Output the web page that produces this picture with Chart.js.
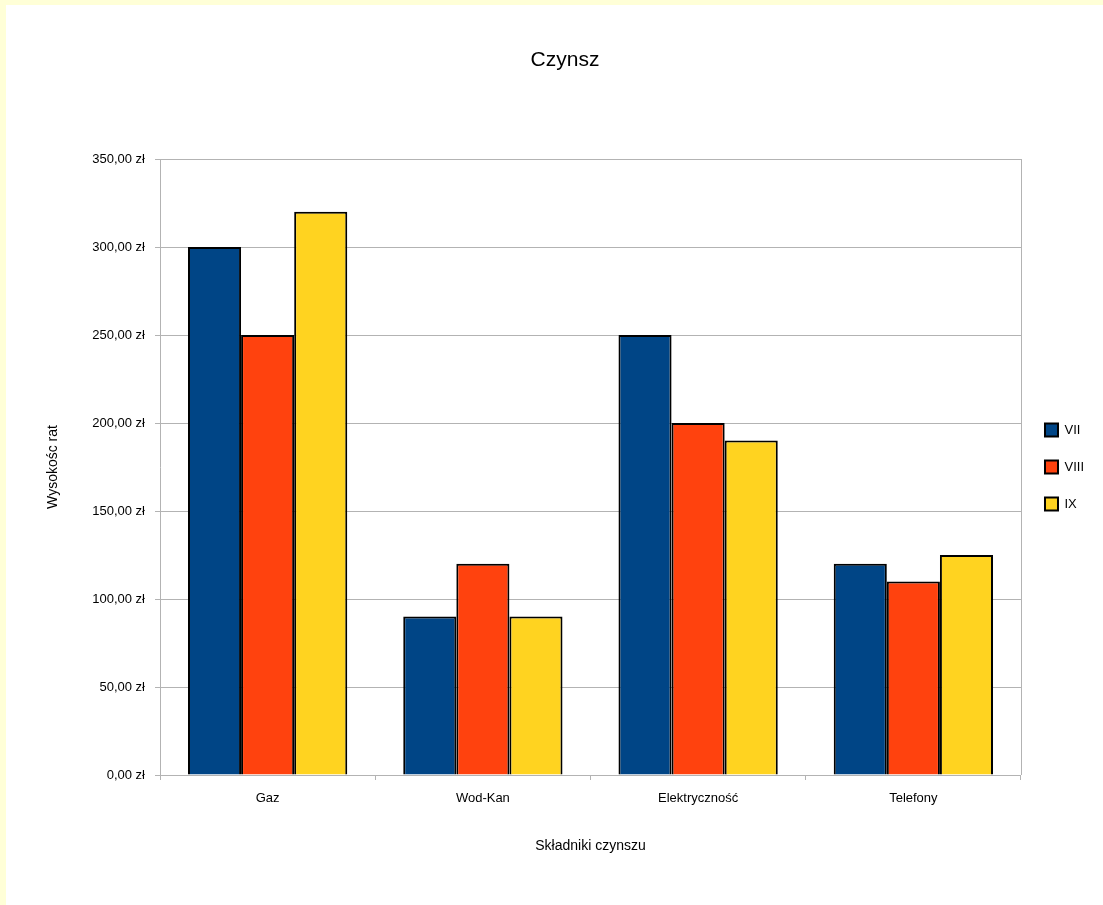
<!DOCTYPE html>
<html>
<head>
<meta charset="utf-8">
<script src="https://cdn.jsdelivr.net/npm/chart.js@4/dist/chart.umd.min.js"></script>
<style>
    body {
        margin: 0;
        background: #ffffd7;
    }
    .chartBox {
        position: absolute;
        left: 6px;
        top: 5px;
        width: 1097px;
        height: 900px;
        background: #ffffff;
    }
</style>
</head>
<body>
<div class="chartBox"><canvas id="myChart"></canvas></div>
<script>
const categories = ['Gaz', 'Wod-Kan', 'Elektryczność', 'Telefony']
const seriesNames = ['VII', 'VIII', 'IX']
const julyValues = [300, 90, 250, 120]
const augustValues = [250, 120, 200, 110]
const septemberValues = [320, 90, 190, 125]
const yMax = 350
const yStep = 50

const gridColor = '#b3b3b3'
const fontFamily = '"Liberation Sans", Arial, sans-serif'

// plot frame on the right side, like the original
const rightFrame = {
    id: 'rightFrame',
    afterDraw(chart) {
        const { ctx, chartArea } = chart
        ctx.save()
        ctx.strokeStyle = gridColor
        ctx.lineWidth = 1
        ctx.beginPath()
        ctx.moveTo(Math.round(chartArea.right) + 0.5, chartArea.top)
        ctx.lineTo(Math.round(chartArea.right) + 0.5, chartArea.bottom)
        ctx.stroke()
        ctx.restore()
    }
}

const ctx = document.getElementById('myChart')

const barChart = new Chart(ctx, {
    type: 'bar',
    data: {
        labels: categories,
        datasets: [
            {
                label: seriesNames[0],
                data: julyValues,
                backgroundColor: '#004586',
                borderColor: '#000000',
                borderWidth: 2,
            },
            {
                label: seriesNames[1],
                data: augustValues,
                backgroundColor: '#ff420e',
                borderColor: '#000000',
                borderWidth: 2,
            },
            {
                label: seriesNames[2],
                data: septemberValues,
                backgroundColor: '#ffd320',
                borderColor: '#000000',
                borderWidth: 2,
            },
        ]
    },
    options: {
        responsive: true,
        maintainAspectRatio: false,
        animation: false,
        datasets: {
            bar: {
                barPercentage: 1,
                categoryPercentage: 0.74,
            }
        },
        layout: {
            padding: { left: 30, right: 9, top: 0, bottom: 50.6 }
        },
        plugins: {
            title: {
                display: true,
                text: 'Czynsz',
                color: '#000',
                font: { family: fontFamily, size: 21, weight: 'normal' },
                padding: { top: 42.4, bottom: 86.4 },
            },
            legend: {
                position: 'right',
                fullSize: false,
                labels: {
                    color: '#000',
                    boxWidth: 13,
                    boxHeight: 13,
                    padding: 24,
                    font: { family: fontFamily, size: 13 },
                }
            },
            tooltip: { enabled: false },
        },
        scales: {
            x: {
                grid: {
                    display: true,
                    offset: true,
                    drawOnChartArea: false,
                    tickLength: 5,
                    color: gridColor,
                },
                border: { color: gridColor },
                ticks: {
                    color: '#000',
                    padding: 11,
                    font: { family: fontFamily, size: 13 },
                },
                title: {
                    display: true,
                    text: 'Składniki czynszu',
                    color: '#000',
                    font: { family: fontFamily, size: 14 },
                    padding: { top: 20, bottom: 0 },
                },
            },
            y: {
                min: 0,
                max: yMax,
                afterFit: (scale) => { scale.width = 124 },
                grid: {
                    color: gridColor,
                    tickLength: 5,
                },
                border: { color: gridColor },
                ticks: {
                    stepSize: yStep,
                    color: '#000',
                    padding: 10,
                    font: { family: fontFamily, size: 13 },
                    callback: (value) => value.toFixed(2).replace('.', ',') + ' zł',
                },
                title: {
                    display: true,
                    text: 'Wysokośc rat',
                    color: '#000',
                    font: { family: fontFamily, size: 14 },
                    padding: { top: 8.6, bottom: 0 },
                },
            }
        }
    },
    plugins: [rightFrame]
})
</script>
</body>
</html>
